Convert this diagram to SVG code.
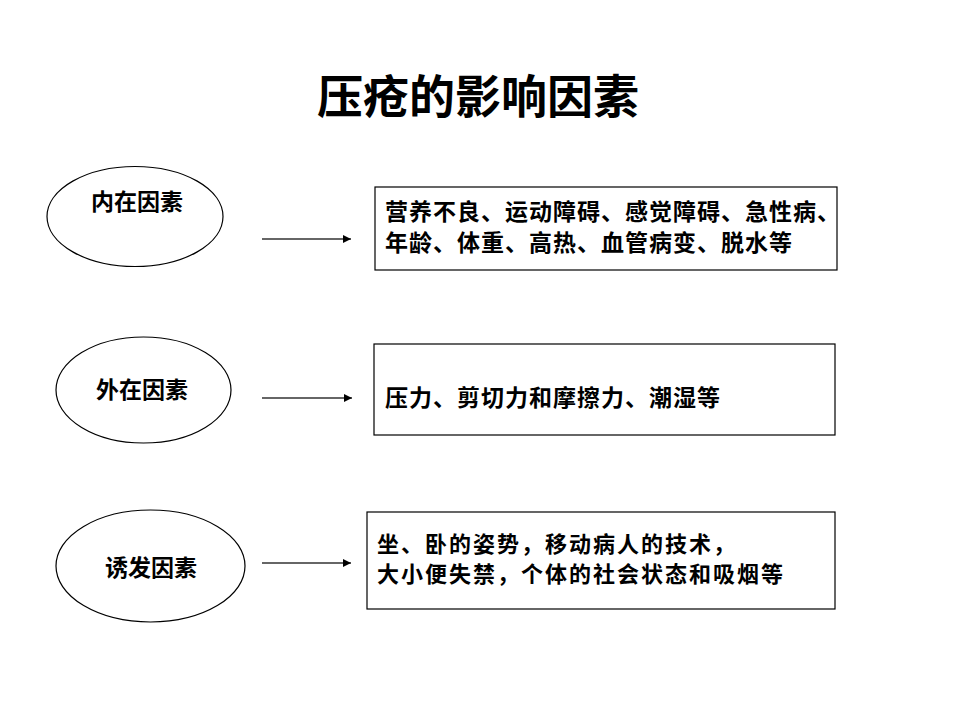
<svg xmlns="http://www.w3.org/2000/svg" width="960" height="720" viewBox="0 0 960 720">
<style>
  text { font-family: "Noto Sans CJK SC", "Noto Sans CJK TC", sans-serif; fill: #000; }
  .title { font-size: 46px; font-weight: 700; }
  .lbl { font-size: 23px; font-weight: 700; text-anchor: middle; }
  .body { font-size: 23px; font-weight: 700; letter-spacing: 1px; }
  .body2 { font-size: 22px; font-weight: 700; letter-spacing: 2px; }
  .node { fill: #fff; stroke: #000; stroke-width: 1.2; }
  .conn { stroke: #333; stroke-width: 1.5; fill: none; marker-end: url(#arr); }
</style>
<defs>
  <marker id="arr" viewBox="0 0 10 10" refX="10" refY="5" markerWidth="10" markerHeight="8" markerUnits="userSpaceOnUse" orient="auto">
    <path d="M0,0 L10,5 L0,10 z" fill="#000"/>
  </marker>
</defs>
<rect width="960" height="720" fill="#fff"/>
<text id="title" class="title" x="478" y="113" text-anchor="middle">压疮的影响因素</text>

<g id="n-intrinsic">
  <ellipse class="node" cx="135" cy="216.5" rx="88" ry="50"/>
  <text class="lbl" x="137" y="210">内在因素</text>
</g>
<g id="n-extrinsic">
  <ellipse class="node" cx="143.5" cy="390" rx="87.5" ry="53"/>
  <text class="lbl" x="142" y="398">外在因素</text>
</g>
<g id="n-trigger">
  <ellipse class="node" cx="150.5" cy="566" rx="94.5" ry="56"/>
  <text class="lbl" x="151" y="576">诱发因素</text>
</g>

<g id="b-intrinsic">
  <rect class="node" x="375" y="187" width="462" height="83"/>
  <text class="body" x="385" y="220">营养不良、运动障碍、感觉障碍、急性病、</text>
  <text class="body" x="385" y="251">年龄、体重、高热、血管病变、脱水等</text>
</g>
<g id="b-extrinsic">
  <rect class="node" x="374" y="344" width="461" height="91"/>
  <text class="body" x="385" y="406">压力、剪切力和摩擦力、潮湿等</text>
</g>
<g id="b-trigger">
  <rect class="node" x="367" y="512" width="468" height="97"/>
  <text class="body2" x="377" y="552">坐、卧的姿势，移动病人的技术，</text>
  <text class="body2" x="377" y="582">大小便失禁，个体的社会状态和吸烟等</text>
</g>

<g id="connectors">
  <line class="conn" x1="262" y1="239" x2="351" y2="239"/>
  <line class="conn" x1="262" y1="398" x2="352" y2="398"/>
  <line class="conn" x1="262" y1="563" x2="351" y2="563"/>
</g>
</svg>
